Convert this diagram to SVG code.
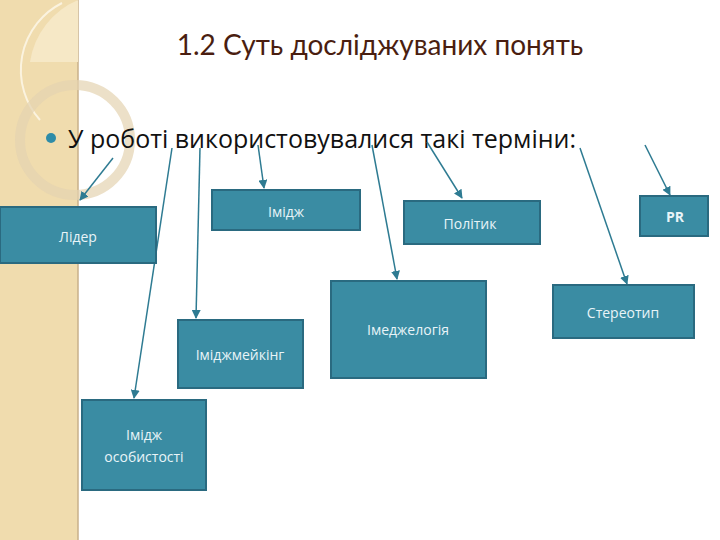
<svg xmlns="http://www.w3.org/2000/svg" width="720" height="540" viewBox="0 0 720 540">
<defs>
<style>
.box{fill:#3a8ca3;stroke:#2a6a80;stroke-width:2}
.bt{font-family:"Open Sans","DejaVu Sans",sans-serif;font-size:14px;fill:#e8f4f8;text-anchor:middle}
.c{stroke:#2e7b92;stroke-width:1.5;fill:none;marker-end:url(#a)}
</style>
<marker id="a" viewBox="0 0 10 10" refX="9" refY="5" markerWidth="6" markerHeight="6" orient="auto"><path d="M0,0L10,5L0,10z" fill="#2e7b92"/></marker>
</defs>
<rect width="720" height="540" fill="#fff"/>
<g id="decor">
<rect x="0" y="0" width="78" height="540" fill="#f0dcae"/>
<line x1="78" y1="0" x2="78" y2="540" stroke="#c9b08a" stroke-width="1.5"/>
<path d="M78,0 A80,80 0 0 0 30,62 L78,62 Z" fill="#f6e8c6"/>
<path d="M62,3 A75,75 0 0 0 40,120" stroke="#fbf3df" stroke-width="2" fill="none"/>
<circle cx="75" cy="140" r="55" fill="none" stroke="#e4d3b0" stroke-width="10" opacity="0.7"/>
</g>
<text x="380" y="55" font-family="Lato,'Open Sans',sans-serif" font-size="28" fill="#4a1e10" text-anchor="middle">1.2 Суть досліджуваних понять</text>
<circle cx="51" cy="138" r="5" fill="#2e8ca8"/>
<text x="68" y="148" font-family="'Open Sans','DejaVu Sans',sans-serif" font-size="25" fill="#111">У роботі використовувалися такі терміни:</text>
<g id="connectors">
<line class="c" x1="113" y1="158" x2="80" y2="200"/>
<line class="c" x1="172" y1="148" x2="134" y2="398"/>
<line class="c" x1="200" y1="148" x2="196" y2="318"/>
<line class="c" x1="258" y1="145" x2="264" y2="188"/>
<line class="c" x1="372" y1="145" x2="397" y2="279"/>
<line class="c" x1="427" y1="142" x2="462" y2="198"/>
<line class="c" x1="580" y1="148" x2="627" y2="284"/>
<line class="c" x1="645" y1="145" x2="670" y2="195"/>
</g>
<g id="n1"><rect class="box" x="0" y="207" width="156" height="56"/><text class="bt" x="78" y="242">Лідер</text></g>
<g id="n2"><rect class="box" x="212" y="190" width="148" height="40"/><text class="bt" x="286" y="217">Імідж</text></g>
<g id="n3"><rect class="box" x="404" y="201" width="136" height="43"/><text class="bt" x="470" y="229">Політик</text></g>
<g id="n4"><rect class="box" x="640" y="196" width="68" height="40"/><text class="bt" x="675" y="222" font-weight="bold">PR</text></g>
<g id="n5"><rect class="box" x="331" y="281" width="155" height="97"/><text class="bt" x="408" y="335">Імеджелогія</text></g>
<g id="n6"><rect class="box" x="553" y="285" width="141" height="53"/><text class="bt" x="623" y="318">Стереотип</text></g>
<g id="n7"><rect class="box" x="178" y="320" width="125" height="68"/><text class="bt" x="240" y="360">Іміджмейкінг</text></g>
<g id="n8"><rect class="box" x="82" y="400" width="124" height="90"/><text class="bt" x="144" y="440">Імідж</text><text class="bt" x="144" y="462">особистості</text></g>
</svg>
